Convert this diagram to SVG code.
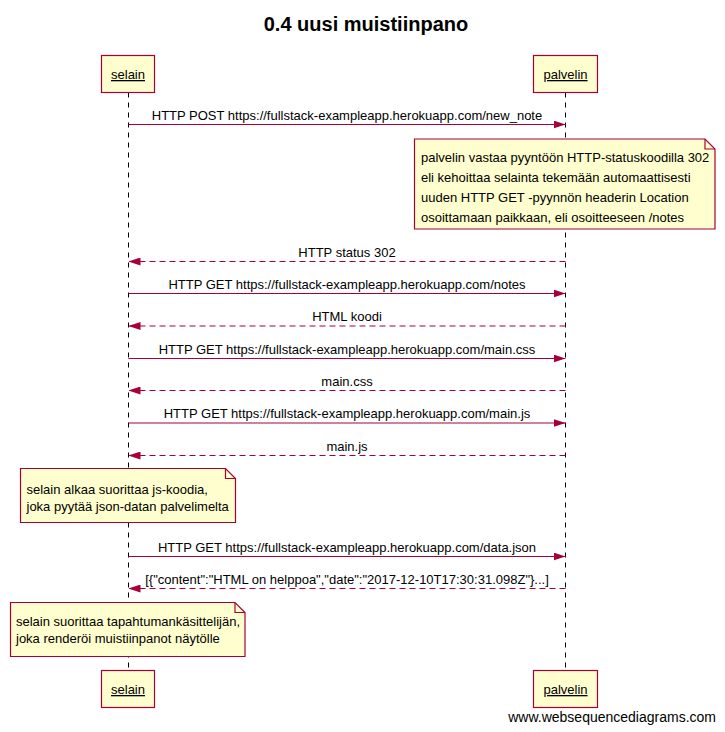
<svg xmlns="http://www.w3.org/2000/svg" width="725" height="732" viewBox="0 0 725 732">
<style>
text{font-family:"Liberation Sans",Arial,sans-serif;font-size:13px;fill:#000}
.title{font-size:20px;font-weight:bold}
.actor rect{fill:#FEFECE;stroke:#A80036;stroke-width:1.2}
.actor text{text-anchor:middle;text-decoration:underline}
.life{stroke:#000;stroke-width:1;stroke-dasharray:5,5;fill:none}
.msg{stroke:#A80036;stroke-width:1;fill:none}
.ret{stroke:#A80036;stroke-width:1;stroke-dasharray:6,4;fill:none}
.lbl{text-anchor:middle}
.note path{fill:#FEFECE;stroke:#A80036;stroke-width:1.2}
.note .fold{fill:none}
.foot{font-size:14px;text-anchor:end}
</style>
<defs>
<marker id="ah" viewBox="0 0 12 8" refX="12" refY="4" markerWidth="12" markerHeight="8" markerUnits="userSpaceOnUse" orient="auto">
<path d="M0,0 L12,4 L0,8 Z" fill="#A80036"/>
</marker>
</defs>
<rect width="725" height="732" fill="#fff"/>
<text class="title" x="366" y="31" text-anchor="middle">0.4 uusi muistiinpano</text>
<g id="lifelines">
<line class="life" x1="128.5" y1="92.5" x2="128.5" y2="670.5"/>
<line class="life" x1="565.5" y1="92.5" x2="565.5" y2="670.5"/>
</g>
<g id="selain" class="actor">
<rect x="101.5" y="55.5" width="53" height="37"/>
<text x="128" y="79">selain</text>
</g>
<g id="palvelin" class="actor">
<rect x="533.5" y="55.5" width="64" height="37"/>
<text x="565.5" y="79">palvelin</text>
</g>
<g id="selain-bottom" class="actor">
<rect x="101.5" y="670.5" width="53" height="37"/>
<text x="128" y="694">selain</text>
</g>
<g id="palvelin-bottom" class="actor">
<rect x="533.5" y="670.5" width="64" height="37"/>
<text x="565.5" y="694">palvelin</text>
</g>
<g id="connectors">
<line class="msg" x1="128.5" y1="124.5" x2="565.5" y2="124.5" marker-end="url(#ah)"/>
<text class="lbl" x="347" y="119.5">HTTP POST https://fullstack-exampleapp.herokuapp.com/new_note</text>
<line class="ret" x1="565.5" y1="261.5" x2="128.5" y2="261.5" marker-end="url(#ah)"/>
<text class="lbl" x="347" y="256.5">HTTP status 302</text>
<line class="msg" x1="128.5" y1="293.5" x2="565.5" y2="293.5" marker-end="url(#ah)"/>
<text class="lbl" x="347" y="288.5">HTTP GET https://fullstack-exampleapp.herokuapp.com/notes</text>
<line class="ret" x1="565.5" y1="326" x2="128.5" y2="326" marker-end="url(#ah)"/>
<text class="lbl" x="347" y="321">HTML koodi</text>
<line class="msg" x1="128.5" y1="358.5" x2="565.5" y2="358.5" marker-end="url(#ah)"/>
<text class="lbl" x="347" y="353.5">HTTP GET https://fullstack-exampleapp.herokuapp.com/main.css</text>
<line class="ret" x1="565.5" y1="390.5" x2="128.5" y2="390.5" marker-end="url(#ah)"/>
<text class="lbl" x="347" y="385.5">main.css</text>
<line class="msg" x1="128.5" y1="423" x2="565.5" y2="423" marker-end="url(#ah)"/>
<text class="lbl" x="347" y="418">HTTP GET https://fullstack-exampleapp.herokuapp.com/main.js</text>
<line class="ret" x1="565.5" y1="455.5" x2="128.5" y2="455.5" marker-end="url(#ah)"/>
<text class="lbl" x="347" y="450.5">main.js</text>
<line class="msg" x1="128.5" y1="556.5" x2="565.5" y2="556.5" marker-end="url(#ah)"/>
<text class="lbl" x="347" y="551.5">HTTP GET https://fullstack-exampleapp.herokuapp.com/data.json</text>
<line class="ret" x1="565.5" y1="588.5" x2="128.5" y2="588.5" marker-end="url(#ah)"/>
<text class="lbl" x="347" y="583.5">[{"content":"HTML on helppoa","date":"2017-12-10T17:30:31.098Z"}...]</text>
</g>
<g id="note1" class="note">
<path d="M414.5,139 H705 L715,149 V229 H414.5 Z"/>
<path class="fold" d="M705,139 V149 H715"/>
<text x="421" y="162">palvelin vastaa pyyntöön HTTP-statuskoodilla 302</text>
<text x="421" y="182">eli kehoittaa selainta tekemään automaattisesti</text>
<text x="421" y="202">uuden HTTP GET -pyynnön headerin Location</text>
<text x="421" y="222">osoittamaan paikkaan, eli osoitteeseen /notes</text>
</g>
<g id="note2" class="note">
<path d="M20.5,468.5 H225.5 L235.5,478.5 V522.5 H20.5 Z"/>
<path class="fold" d="M225.5,468.5 V478.5 H235.5"/>
<text x="26.5" y="493.5">selain alkaa suorittaa js-koodia,</text>
<text x="26.5" y="510.5">joka pyytää json-datan palvelimelta</text>
</g>
<g id="note3" class="note">
<path d="M10.5,602.5 H235 L245,612.5 V656.5 H10.5 Z"/>
<path class="fold" d="M235,602.5 V612.5 H245"/>
<text x="16" y="625.5">selain suorittaa tapahtumankäsittelijän,</text>
<text x="16" y="642.5">joka renderöi muistiinpanot näytölle</text>
</g>
<text class="foot" x="716" y="722">www.websequencediagrams.com</text>
</svg>
